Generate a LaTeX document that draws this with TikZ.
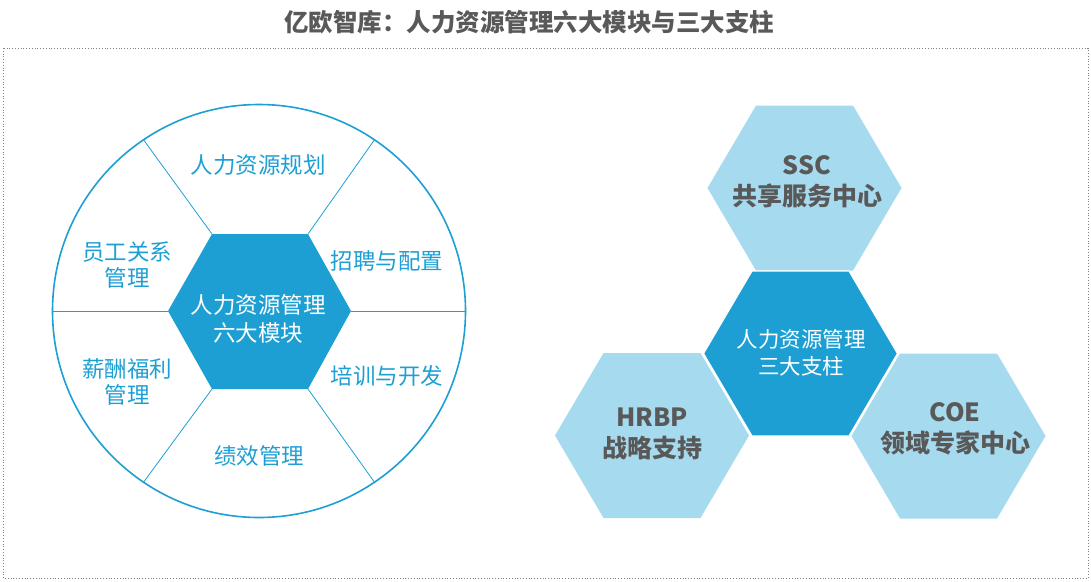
\documentclass[tikz,border=0pt]{standalone}
\usepackage{fontspec}
\setmainfont{Noto Sans CJK SC}
\definecolor{hrblue}{HTML}{1E9FD4}
\definecolor{hrlight}{HTML}{A6DAEE}
\definecolor{hrgray}{HTML}{595959}
\begin{document}
\begin{tikzpicture}[x=1pt,y=-1pt,
  centertext/.style={text=white, align=center},
  pillartext/.style={text=hrgray, align=center, font=\fontsize{25}{31}\selectfont\bfseries},
  modlabel/.style={text=hrblue, align=center, font=\fontsize{22.5}{26}\selectfont},
  divider/.style={draw=hrblue, line width=0.8pt}]
\useasboundingbox (0,0) rectangle (1091,581);
% title and frame
\node[text=hrgray, font=\fontsize{24.5}{28}\selectfont\bfseries] (title) at (529,22) {亿欧智库：人力资源管理六大模块与三大支柱};
\draw[gray, dotted, line width=0.8pt] (3,48) rectangle (1088,578);
% left: six modules
\node[circle, draw=hrblue, line width=1.6pt, minimum size=413pt, inner sep=0pt] (circ) at (259,311) {};
\coordinate (hl) at (168,311);
\coordinate (htl) at (212,234);
\coordinate (htr) at (308,234);
\coordinate (hr) at (351,311);
\coordinate (hbr) at (308,389);
\coordinate (hbl) at (212,389);
\fill[hrblue] (hl) -- (htl) -- (htr) -- (hr) -- (hbr) -- (hbl) -- cycle;
\draw[divider] (hl) -- (circ.180);
\draw[divider] (hr) -- (circ.0);
\draw[divider] (htl) -- (circ.124);
\draw[divider] (htr) -- (circ.56);
\draw[divider] (hbl) -- (circ.236);
\draw[divider] (hbr) -- (circ.304);
\node[centertext, font=\fontsize{22.5}{28}\selectfont] (six) at (258,319) {人力资源管理\\六大模块};
\node[modlabel] (m1) at (258,165) {人力资源规划};
\node[modlabel] (m2) at (387,261) {招聘与配置};
\node[modlabel] (m3) at (387,376) {培训与开发};
\node[modlabel] (m4) at (259,456) {绩效管理};
\node[modlabel] (m5) at (127,382) {薪酬福利\\管理};
\node[modlabel] (m6) at (127,265) {员工关系\\管理};
% right: three pillars
\coordinate (sscc) at (804.5,188);
\coordinate (hrbpc) at (652,435.5);
\coordinate (coec) at (948.5,436);
\coordinate (threec) at (800.5,353.5);
\fill[hrlight] (sscc) ++(-97,0) -- ++(48.5,-82.5) -- ++(97,0) -- ++(48.5,82.5) -- ++(-48.5,82.5) -- ++(-97,0) -- cycle;
\fill[hrlight] (hrbpc) ++(-97,0) -- ++(48.5,-82.5) -- ++(97,0) -- ++(48.5,82.5) -- ++(-48.5,82.5) -- ++(-97,0) -- cycle;
\fill[hrlight] (coec) ++(-97,0) -- ++(48.5,-82.5) -- ++(97,0) -- ++(48.5,82.5) -- ++(-48.5,82.5) -- ++(-97,0) -- cycle;
\filldraw[fill=hrblue, draw=white, line width=1.2pt, line join=miter] (threec) ++(-97,0) -- ++(48.5,-82.5) -- ++(97,0) -- ++(48.5,82.5) -- ++(-48.5,82.5) -- ++(-97,0) -- cycle;
\node[pillartext] (ssc) at (807,181.5) {SSC\\共享服务中心};
\node[pillartext] (hrbp) at (652,433.5) {HRBP\\战略支持};
\node[pillartext] (coe) at (955,428.5) {COE\\领域专家中心};
\node[centertext, font=\fontsize{21.5}{27}\selectfont] (three) at (801,352.5) {人力资源管理\\三大支柱};
\end{tikzpicture}
\end{document}
